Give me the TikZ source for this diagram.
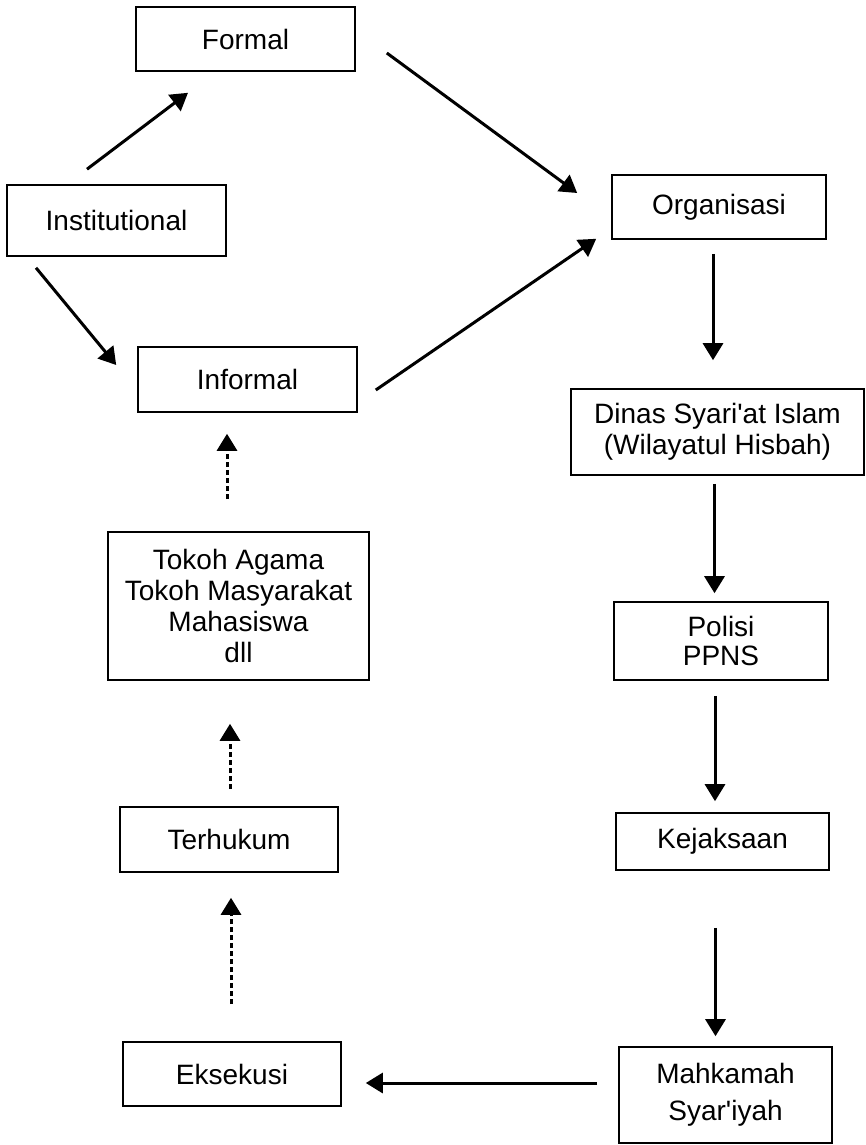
\documentclass[tikz,border=0pt]{standalone}
\usepackage{fontspec}
\setmainfont{Liberation Sans}
\usetikzlibrary{arrows.meta}

\tikzset{
  kasten/.style={draw, line width=1.6pt, rectangle, inner sep=0pt, align=center,
    font=\fontsize{28}{31}\selectfont},
  pfeil/.style={line width=3pt, -{Triangle[length=17pt,width=20pt]}},
  punktpfeil/.style={pfeil, dash pattern=on 5pt off 3pt}
}

\begin{document}
\begin{tikzpicture}[x=1pt, y=-1pt]
        \useasboundingbox (0,0) rectangle (865,1145);

        % linke Spalte
        \node[kasten, minimum width=219pt, minimum height=64pt] (formal) at (245.5,39) {Formal};
        \node[kasten, minimum width=219pt, minimum height=71pt] (inst) at (116.5,220.5) {Institutional};
        \node[kasten, minimum width=219pt, minimum height=65pt] (informal) at (247.5,379.5) {Informal};
        \node[kasten, minimum width=261pt, minimum height=148pt] (tokoh) at (238.5,606)
            {Tokoh Agama\\Tokoh Masyarakat\\Mahasiswa\\dll};
        \node[kasten, minimum width=218pt, minimum height=65pt] (terhukum) at (229,839.5) {Terhukum};
        \node[kasten, minimum width=218pt, minimum height=64pt] (eksekusi) at (232,1074) {Eksekusi};

        % rechte Spalte
        \node[kasten, minimum width=214pt, minimum height=64pt] (org) at (719,207) {Organisasi};
        \node[kasten, minimum width=293pt, minimum height=86pt] (dinas) at (717.5,432)
            {Dinas Syari\textquotesingle at Islam\\(Wilayatul Hisbah)};
        \node[kasten, minimum width=214pt, minimum height=78pt] (polisi) at (721,641) {Polisi\\[-2pt]PPNS};
        \node[kasten, minimum width=213pt, minimum height=57pt] (kejaksaan) at (722.5,841.5) {Kejaksaan};
        \node[kasten, minimum width=213pt, minimum height=96pt] (mahkamah) at (725.5,1095) {Mahkamah\\[6pt]Syar\textquotesingle iyah};

        % schräge Pfeile
        \draw[pfeil] ([xshift=-29.5pt,yshift=15pt]inst.north) -- ([xshift=-57.5pt,yshift=-21pt]formal.south);
        \draw[pfeil] ([xshift=-80.5pt,yshift=-11pt]inst.south) -- ([xshift=-21pt,yshift=14.5pt]informal.west);
        \draw[pfeil] ([xshift=31pt,yshift=-14pt]formal.east) -- ([xshift=-34pt,yshift=14pt]org.west);
        \draw[pfeil] ([xshift=18pt,yshift=-10.5pt]informal.east) -- ([xshift=-15pt,yshift=1pt]org.south west);

        % senkrechte Pfeile rechts
        \draw[pfeil, shorten <=14pt, shorten >=28pt] ([xshift=-6pt]org.south) -- ([xshift=-6pt]org.south |- dinas.north);
        \draw[pfeil, shorten <=8pt, shorten >=8pt] ([xshift=-3pt]dinas.south) -- ([xshift=-3pt]dinas.south |- polisi.north);
        \draw[pfeil, shorten <=15pt, shorten >=11pt] ([xshift=-6pt]polisi.south) -- ([xshift=-6pt]polisi.south |- kejaksaan.north);
        \draw[pfeil, shorten <=57pt, shorten >=10pt] ([xshift=-7pt]kejaksaan.south) -- ([xshift=-7pt]kejaksaan.south |- mahkamah.north);

        % unten nach links
        \draw[pfeil, shorten <=21pt, shorten >=24pt] ([yshift=12pt]mahkamah.west) -- ([yshift=12pt]mahkamah.west -| eksekusi.east);

        % gepunktete Pfeile links
        \draw[punktpfeil, shorten <=37pt, shorten >=25pt] ([xshift=-1pt]eksekusi.north) -- ([xshift=-1pt]eksekusi.north |- terhukum.south);
        \draw[punktpfeil, shorten <=17pt, shorten >=43pt] ([xshift=1pt]terhukum.north) -- ([xshift=1pt]terhukum.north |- tokoh.south);
        \draw[punktpfeil, shorten <=32pt, shorten >=21pt] ([xshift=-11.5pt]tokoh.north) -- ([xshift=-11.5pt]tokoh.north |- informal.south);
    \end{tikzpicture}
\end{document}
